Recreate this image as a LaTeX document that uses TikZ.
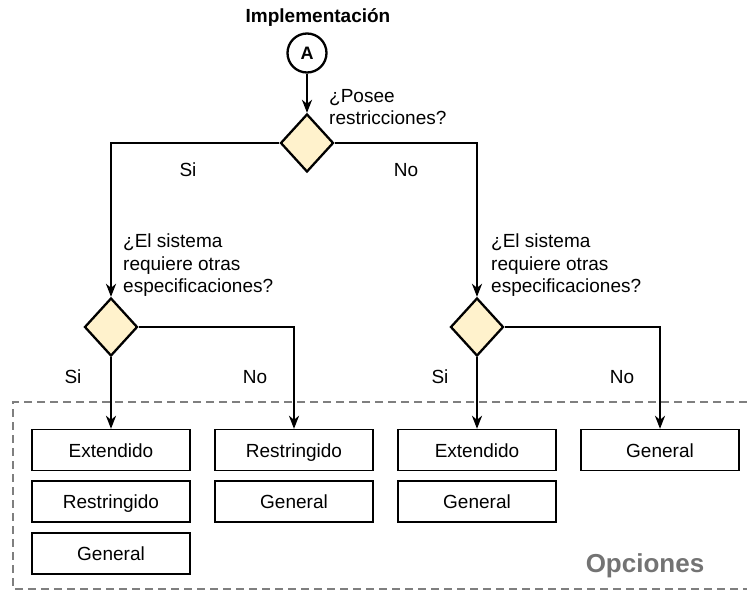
\documentclass[tikz,border=0pt]{standalone}
\usepackage{fontspec}
\setmainfont{Liberation Sans}
\usetikzlibrary{arrows.meta,shapes.geometric}
\definecolor{decfill}{HTML}{FFF2CC}
\definecolor{optgray}{HTML}{737373}
\definecolor{framegray}{HTML}{7F7F7F}

\begin{document}
\begin{tikzpicture}[x=1pt,y=-1pt,
  txt/.style={font=\fontsize{19}{22.5}\selectfont, inner sep=0pt},
  lbl/.style={txt, align=left, anchor=north west},
  branch/.style={txt, anchor=center},
  decision/.style={draw, line width=2.3pt, fill=decfill, diamond,
    minimum width=53pt, minimum height=58pt, inner sep=0pt},
  option/.style={draw, line width=1.4pt, minimum width=158pt,
    minimum height=41pt, txt, text height=14pt, text depth=0pt},
  flow/.style={line width=2.3pt, -{Stealth[length=13pt,width=10pt,inset=4pt]}},
  frame/.style={draw=framegray, line width=2.2pt, dash pattern=on 8pt off 5pt}
]
\useasboundingbox (0,0) rectangle (747,592);

% dashed container for the options
\draw[frame] (760,402) -- (13,402) -- (13,589) -- (760,589);
\node[font=\bfseries\fontsize{26}{26}\selectfont, text=optgray, inner sep=0pt,
  anchor=base] (opt) at (645,572) {Opciones};

% start connector
\node[txt, font=\bfseries\fontsize{19}{22}\selectfont, anchor=base] (title) at (318,22) {Implementación};
\node[draw, circle, line width=2.3pt, minimum size=39pt, inner sep=0pt,
  font=\bfseries\fontsize{18}{18}\selectfont] (A) at (307,53) {A};

% decisions
\node[decision] (d0) at (307,143) {};
\node[decision] (d1) at (111,327) {};
\node[decision] (d2) at (477,327) {};

\node[lbl] (q0) at (329,89) {¿Posee\\restricciones?};
\node[lbl] (q1) at (123,234) {¿El sistema\\requiere otras\\especificaciones?};
\node[lbl] (q2) at (491,234) {¿El sistema\\requiere otras\\especificaciones?};

\node[branch] (s0) at (188,170) {Si};
\node[branch] (n0) at (406,170) {No};
\node[branch] (s1) at (73,377) {Si};
\node[branch] (n1) at (255,377) {No};
\node[branch] (s2) at (440,377) {Si};
\node[branch] (n2) at (622,377) {No};

% option boxes
\node[option] (b11) at (111,450) {Extendido};
\node[option] (b12) at (111,501.5) {Restringido};
\node[option] (b13) at (111,553.5) {General};
\node[option] (b21) at (294,450) {Restringido};
\node[option] (b22) at (294,501.5) {General};
\node[option] (b31) at (477,450) {Extendido};
\node[option] (b32) at (477,501.5) {General};
\node[option] (b41) at (660,450) {General};

% connectors
\draw[flow] (A) -- (d0);
\draw[flow] (d0.west) -| (d1.north);
\draw[flow] (d0.east) -| (d2.north);
\draw[flow] (d1.south) -- (b11.north);
\draw[flow] (d1.east) -| (b21.north);
\draw[flow] (d2.south) -- (b31.north);
\draw[flow] (d2.east) -| (b41.north);
\end{tikzpicture}
\end{document}
